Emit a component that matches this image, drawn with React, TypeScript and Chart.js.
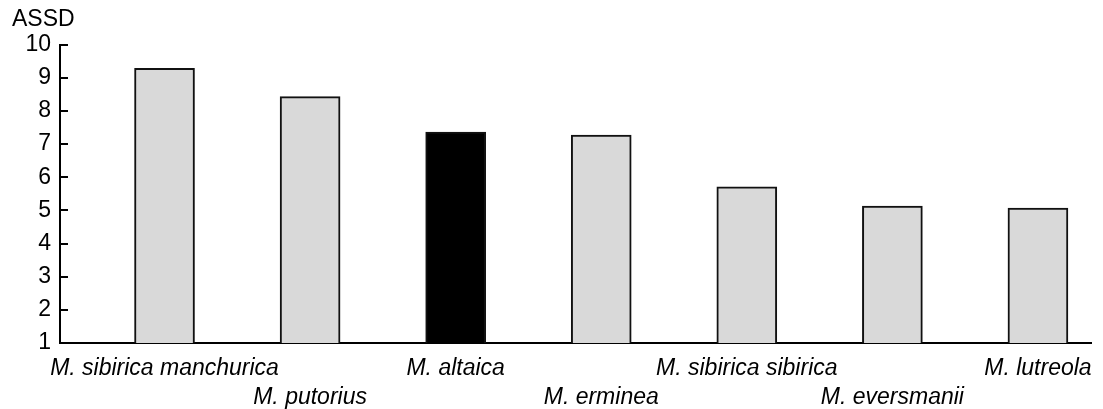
import React, { useEffect, useRef } from "react";
import { Chart, registerables } from "chart.js";

Chart.register(...registerables);

const categories = [
  "M. sibirica manchurica",
  "M. putorius",
  "M. altaica",
  "M. erminea",
  "M. sibirica sibirica",
  "M. eversmanii",
  "M. lutreola",
];
const assdValues = [9.28, 8.43, 7.36, 7.27, 5.71, 5.13, 5.07];
const barColors = ["#d9d9d9", "#d9d9d9", "#000000", "#d9d9d9", "#d9d9d9", "#d9d9d9", "#d9d9d9"];
const yTickValues = [1, 2, 3, 4, 5, 6, 7, 8, 9, 10];
const yAxisTitle = "ASSD";

export default function App() {
  const ref = useRef<HTMLCanvasElement>(null);

  useEffect(() => {
    document.body.style.margin = "0";
    Chart.defaults.font.family = "'Liberation Sans', Arial, sans-serif";
    Chart.defaults.color = "#000";
    const chart = new Chart(ref.current!, {
      type: "bar",
      data: {
        datasets: [
          {
            data: assdValues.map((v, i) => ({ x: i, y: v })),
            backgroundColor: barColors,
            borderColor: "#111",
            borderWidth: 2,
            barThickness: 60,
            borderSkipped: "start",
          },
        ],
      },
      options: {
        animation: false,
        responsive: false,
        layout: { padding: { left: 12, right: 7, top: 0, bottom: 0 } },
        plugins: {
          legend: { display: false },
          tooltip: { enabled: false },
          title: {
            display: true,
            text: yAxisTitle,
            align: "start",
            color: "#000",
            font: { size: 23, weight: "normal", lineHeight: 1.2 },
            padding: { top: 6, bottom: 10.9 },
          },
        },
        scales: {
          x: {
            type: "linear",
            offset: false,
            min: -0.718,
            max: 6.366,
            afterBuildTicks: (s: any) => {
              s.ticks = categories.map((_, i) => ({ value: i }));
            },
            afterFit: (s: any) => {
              s.height = 66;
            },
            ticks: {
              autoSkip: false,
              maxRotation: 0,
              minRotation: 0,
              padding: 11,
              color: "#000",
              font: { size: 23, style: "italic", lineHeight: 1.26 },
              callback: (_v: any, i: number) =>
                i % 2 === 0 ? [categories[i], ""] : ["", categories[i]],
            },
            grid: { display: false, drawTicks: false, drawOnChartArea: false, offset: false },
            border: { display: true, color: "#000", width: 2 },
          },
          y: {
            min: yTickValues[0],
            max: yTickValues[yTickValues.length - 1],
            afterBuildTicks: (s: any) => {
              s.ticks = yTickValues.map((v) => ({ value: v }));
            },
            afterFit: (s: any) => {
              s.width = 48;
            },
            ticks: {
              padding: 17,
              color: "#000",
              font: { size: 23 },
            },
            grid: {
              drawOnChartArea: false,
              drawTicks: true,
              tickLength: -8,
              color: "#000",
              lineWidth: 2,
            },
            border: { display: true, color: "#000", width: 2 },
          },
        },
      },
    });
    return () => chart.destroy();
  }, []);

  return <canvas ref={ref} width={1103} height={409} style={{ display: "block" }} />;
}
